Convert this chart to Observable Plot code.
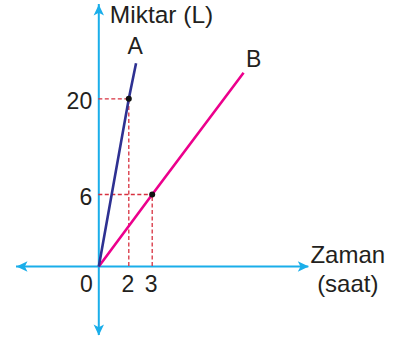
<!DOCTYPE html>
<html><head><meta charset="utf-8">
<script src="https://cdn.jsdelivr.net/npm/d3@7"></script>
<script src="https://cdn.jsdelivr.net/npm/@observablehq/plot@0.6"></script>
<style>body{margin:0;background:#fff}</style>
</head><body><div id="chart"></div>
<script>
// Data (schematic chart, not to scale)
const xTicks = [2, 3];
const yTicks = [6, 20];
const lineA = [{x: 0, y: 0}, {x: 2, y: 20}, {x: 2.31, y: 25.2}];
const lineB = [{x: 0, y: 0}, {x: 3, y: 6}, {x: 6.91, y: 23.8}];
const marked = [{x: 2, y: 20}, {x: 3, y: 6}];
const labelA = [{name: "A", x: 2.31, y: 25.2}];
const labelB = [{name: "B", x: 6.91, y: 23.8}];
const xBreaks = [-5.5, 0, 2, 3, 9.7];
const yBreaks = [-5.75, 0, 6, 20, 33.8];
const xTitle = "Zaman\n(saat)";
const yTitle = "Miktar (L)";

const xMin = xBreaks[0], xMax = xBreaks[xBreaks.length - 1];
const yMin = yBreaks[0], yMax = yBreaks[yBreaks.length - 1];

const arrowHead = {
  draw(ctx) {
    ctx.moveTo(0, 0);
    ctx.lineTo(5.2, 11);
    ctx.lineTo(0, 8.3);
    ctx.lineTo(-5.2, 11);
    ctx.closePath();
  }
};
const heads = [
  {x: xMax, y: 0, rot: 90},
  {x: xMin, y: 0, rot: 270},
  {x: 0, y: yMax, rot: 0},
  {x: 0, y: yMin, rot: 180}
];

const axisColor = "#1aaeea";
const red = "#d8303f";
const ink = "#231f20";
const font = "Liberation Sans, Arial, Helvetica, sans-serif";

const chart = Plot.plot({
  width: 393,
  height: 342,
  margin: 0,
  style: {fontFamily: font, background: "#fff", overflow: "visible"},
  x: {type: "linear", domain: xBreaks, range: [16, 98.3, 128.3, 151.7, 308.3], axis: null},
  y: {type: "linear", domain: yBreaks, range: [335, 266, 194, 98.3, 4], axis: null},
  marks: [
    // axes
    Plot.ruleY([0], {x1: xMin, x2: xMax, stroke: axisColor, strokeWidth: 2}),
    Plot.ruleX([0], {y1: yMin, y2: yMax, stroke: axisColor, strokeWidth: 2}),
    Plot.dot(heads, {x: "x", y: "y", rotate: "rot", symbol: arrowHead, fill: axisColor, stroke: "none", r: 6}),
    // dashed guides
    Plot.ruleY(marked, {y: "y", x1: 0, x2: "x", stroke: red, strokeWidth: 1.3, strokeDasharray: "4,2.5"}),
    Plot.ruleX(marked, {x: "x", y1: 0, y2: "y", stroke: red, strokeWidth: 1.3, strokeDasharray: "4,2.5"}),
    // lines
    Plot.line(lineB, {x: "x", y: "y", stroke: "#ec008c", strokeWidth: 2.6, strokeLinecap: "butt"}),
    Plot.line(lineA, {x: "x", y: "y", stroke: "#2e3192", strokeWidth: 2.6, strokeLinecap: "butt"}),
    Plot.dot(marked, {x: "x", y: "y", r: 3, fill: "#111", stroke: "none"}),
    // tick labels
    Plot.text(xTicks, {x: d => d, y: 0, text: d => String(d), textAnchor: "middle", lineAnchor: "top", dy: 9, dx: -1, fontSize: 23, fill: ink}),
    Plot.text([0], {x: d => d, y: d => d, text: d => String(d), textAnchor: "middle", lineAnchor: "top", dy: 9, dx: -12.3, fontSize: 23, fill: ink}),
    Plot.text(yTicks, {x: 0, y: d => d, text: d => String(d), textAnchor: "end", lineAnchor: "middle", dx: -6.6, dy: 3, fontSize: 23, fill: ink}),
    // titles
    Plot.text([yTitle], {x: 0, y: yMax, text: d => d, textAnchor: "start", lineAnchor: "top", dx: 11, dy: 1.5, fontSize: 24.5, fill: ink}),
    Plot.text([xTitle], {x: xMax, y: 0, text: d => d, textAnchor: "middle", lineAnchor: "top", lineHeight: 1.2, dx: 39, dy: -24, fontSize: 24, fill: ink}),
    // series labels
    Plot.text(labelA, {x: "x", y: "y", text: "name", textAnchor: "middle", lineAnchor: "top", dx: -1, dy: -25.5, fontSize: 23, fill: ink}),
    Plot.text(labelB, {x: "x", y: "y", text: "name", textAnchor: "middle", lineAnchor: "top", dx: 10, dy: -22.5, fontSize: 23, fill: ink})
  ]
});
document.getElementById("chart").appendChild(chart);
</script>
</body></html>
